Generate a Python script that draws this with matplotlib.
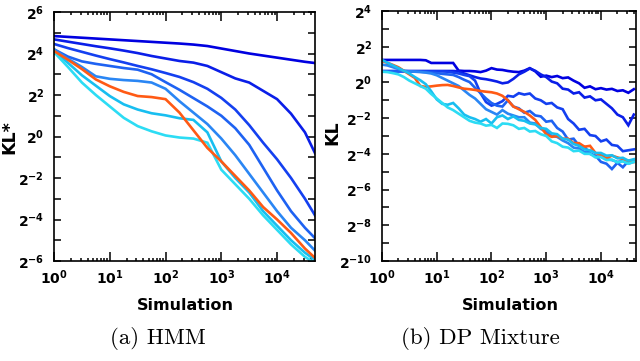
import numpy as np
import matplotlib
matplotlib.use("Agg")
import matplotlib.pyplot as plt

# log10(simulation) grid for each panel
hmm_logx = [0, 0.25, 0.5, 0.75, 1.0, 1.25, 1.5, 1.75, 2.0, 2.25, 2.5, 2.75,
            3.0, 3.25, 3.5, 3.75, 4.0, 4.25, 4.5, 4.68]
dp_logx = [round(0.1 * i, 1) for i in range(47)]

# log2(KL*)
hmm_a = [4.84, 4.80, 4.76, 4.72, 4.68, 4.64, 4.60, 4.56, 4.52, 4.48, 4.43, 4.36,
         4.24, 4.12, 4.00, 3.90, 3.80, 3.70, 3.60, 3.54]
hmm_b = [4.68, 4.57, 4.46, 4.35, 4.25, 4.14, 4.02, 3.88, 3.76, 3.64, 3.56, 3.40,
         3.10, 2.80, 2.60, 2.20, 1.80, 1.10, 0.20, -0.80]
hmm_c = [4.46, 4.26, 4.08, 3.90, 3.73, 3.57, 3.40, 3.24, 3.06, 2.87, 2.62, 2.30,
         1.86, 1.30, 0.55, -0.30, -1.10, -2.00, -3.00, -3.80]
hmm_d = [4.20, 3.85, 3.62, 3.50, 3.40, 3.30, 3.22, 3.00, 2.62, 2.25, 1.85, 1.45,
         1.00, 0.40, -0.40, -1.50, -2.60, -3.60, -4.40, -4.90]
hmm_e = [4.20, 3.75, 3.35, 2.90, 2.78, 2.72, 2.68, 2.60, 2.30, 1.70, 1.15, 0.60,
         -0.10, -0.90, -1.80, -2.70, -3.60, -4.40, -5.00, -5.50]
hmm_orange = [4.12, 3.70, 3.25, 2.75, 2.42, 2.15, 1.95, 1.90, 1.80, 1.15, 0.30, -0.55,
              -1.20, -1.90, -2.60, -3.40, -4.00, -4.65, -5.40, -5.85]
hmm_cyan1 = [4.12, 3.55, 2.95, 2.45, 1.95, 1.55, 1.30, 1.12, 1.02, 0.88, 0.80, 0.20,
             -1.20, -2.00, -2.70, -3.60, -4.30, -5.00, -5.60, -5.95]
hmm_cyan2 = [4.07, 3.35, 2.60, 2.00, 1.45, 0.90, 0.50, 0.25, 0.05, -0.05, -0.10, -0.30,
             -1.60, -2.30, -3.00, -3.80, -4.50, -5.20, -5.80, -6.10]

# log2(KL)
dp_a = [1.26, 1.26, 1.26, 1.26, 1.26, 1.26, 1.26, 1.26, 1.24, 1.09, 1.09, 1.09, 1.09, 1.09,
        0.66, 0.64, 0.64, 0.62, 0.58, 0.66, 0.80, 0.72, 0.70, 0.64, 0.60, 0.58, 0.66, 0.80,
        0.62, 0.32, 0.38, 0.30, 0.36, 0.24, 0.28, 0.10, -0.05, -0.30, -0.22, -0.38, -0.32,
        -0.40, -0.36, -0.48, -0.44, -0.58, -0.38]
dp_b = [0.64, 0.64, 0.64, 0.64, 0.64, 0.64, 0.64, 0.64, 0.64, 0.64, 0.64, 0.64, 0.64, 0.64,
        0.62, 0.50, 0.40, 0.30, 0.22, 0.18, 0.12, 0.05, -0.05, 0.00, 0.20, 0.45, 0.60, 0.78,
        0.65, 0.45, 0.30, 0.05, -0.05, -0.35, -0.40, -0.62, -0.55, -0.85, -0.78, -1.00, -0.95,
        -1.20, -1.45, -1.80, -1.95, -2.40, -1.80]
dp_c = [0.62, 0.62, 0.62, 0.62, 0.62, 0.62, 0.62, 0.62, 0.62, 0.62, 0.62, 0.62, 0.60, 0.55,
        0.50, 0.42, 0.35, 0.10, -0.60, -1.10, -1.30, -1.20, -1.05, -0.75, -0.80, -0.60, -0.68,
        -0.62, -0.90, -1.00, -1.20, -1.15, -1.40, -1.50, -2.05, -2.30, -2.65, -2.60, -2.95,
        -3.00, -3.30, -3.20, -3.50, -3.55, -3.85, -3.80, -3.75]
dp_d = [0.62, 0.62, 0.62, 0.62, 0.62, 0.62, 0.62, 0.60, 0.58, 0.55, 0.52, 0.48, 0.45, 0.42,
        0.30, 0.15, 0.02, -0.30, -0.60, -0.90, -1.15, -1.30, -1.35, -1.00, -1.35, -1.45, -1.70,
        -1.60, -1.85, -1.90, -2.20, -2.15, -2.55, -2.75, -3.20, -3.15, -3.55, -3.60, -4.00,
        -4.10, -4.45, -4.55, -4.85, -4.50, -4.75, -4.40, -4.35]
dp_e = [1.00, 0.95, 0.85, 0.75, 0.65, 0.62, 0.60, 0.58, 0.55, 0.50, 0.40, 0.25, 0.10, -0.05,
        -0.20, -0.45, -0.70, -0.90, -1.20, -1.50, -1.65, -1.80, -1.55, -1.75, -1.85, -1.95, -1.95,
        -2.25, -2.30, -2.60, -2.75, -3.00, -3.05, -3.25, -3.40, -3.65, -3.70, -3.90, -3.95,
        -4.15, -4.15, -4.30, -4.35, -4.45, -4.40, -4.55, -4.45]
dp_orange = [1.20, 1.10, 0.98, 0.85, 0.65, 0.45, 0.25, -0.20, -0.25, -0.22, -0.18, -0.15, -0.14,
             -0.20, -0.28, -0.35, -0.38, -0.42, -0.48, -0.52, -0.55, -0.62, -0.75, -1.00, -1.35,
             -1.50, -1.65, -1.85, -2.10, -2.50, -2.90, -3.05, -3.00, -3.15, -3.15, -3.40, -3.40,
             -3.60, -3.55, -3.95, -4.05, -4.25, -4.10, -4.20, -4.30, -4.40, -4.45]
dp_cyan1 = [1.26, 1.10, 0.95, 0.80, 0.65, 0.50, 0.30, 0.12, -0.10, -0.50, -0.95, -1.20, -1.25,
            -1.15, -1.45, -1.80, -1.95, -2.05, -2.20, -2.05, -2.30, -1.95, -1.85, -2.05, -1.90,
            -2.10, -2.15, -2.30, -2.35, -2.55, -2.60, -2.85, -2.90, -3.15, -3.20, -3.45, -3.55,
            -3.75, -3.80, -3.95, -3.95, -4.10, -4.08, -4.25, -4.22, -4.38, -4.30]
dp_cyan2 = [0.60, 0.58, 0.52, 0.45, 0.30, 0.10, -0.05, -0.20, -0.35, -0.65, -0.90, -1.15, -1.40,
            -1.55, -1.75, -1.95, -2.15, -2.25, -2.30, -2.42, -2.38, -2.55, -2.30, -2.32, -2.40,
            -2.60, -2.55, -2.75, -2.72, -2.90, -3.00, -3.30, -3.40, -3.60, -3.65, -3.85, -3.82,
            -4.00, -4.00, -4.20, -4.18, -4.35, -4.32, -4.48, -4.42, -4.55, -4.45]

colors = ['#0000e0', '#0a1ee8', '#1440f0', '#1e62f2', '#2a86f4', '#ff5a14', '#18bef0', '#2cdcf4']

plt.rcParams['mathtext.default'] = 'bf'
plt.rcParams['font.family'] = 'DejaVu Sans'

fig = plt.figure(figsize=(6.4, 3.61), dpi=100)
W, H = 640.0, 361.0
ax1 = fig.add_axes([54 / W, 1 - 261 / H, (315 - 54) / W, (261 - 12) / H])
ax2 = fig.add_axes([382 / W, 1 - 261 / H, (636 - 382) / W, (261 - 11) / H])


def draw(ax, logx, series, order, ylo, yhi, xmax):
    x = 10.0 ** np.array(logx)
    for i in order:
        ax.plot(x, 2.0 ** np.array(series[i]), color=colors[i], lw=1.9,
                solid_joinstyle='miter')
    ax.set_xscale('log')
    ax.set_yscale('log', base=2)
    ax.set_xlim(1, xmax)
    ax.set_ylim(2.0 ** ylo, 2.0 ** yhi)
    ax.set_xticks([10.0 ** k for k in range(5)])
    ax.set_xticklabels(['$10^{%d}$' % k for k in range(5)])
    ax.xaxis.set_minor_locator(matplotlib.ticker.LogLocator(base=10, subs=np.arange(2, 10)))
    ax.xaxis.set_minor_formatter(matplotlib.ticker.NullFormatter())
    ks = list(range(ylo, yhi + 1))
    ax.set_yticks([2.0 ** k for k in ks])
    ax.set_yticklabels(['$2^{%d}$' % k if k % 2 == 0 else '' for k in ks])
    ax.yaxis.set_minor_locator(matplotlib.ticker.NullLocator())
    ax.tick_params(which='both', direction='in', top=True, right=True, width=1.1,
                   labelsize=10)
    ax.tick_params(axis='x', which='major', length=6.5, pad=5)
    ax.tick_params(axis='x', which='minor', length=2.5)
    ax.tick_params(axis='y', which='major', length=5, pad=7)
    for s in ax.spines.values():
        s.set_linewidth(1.2)


draw(ax1, hmm_logx, [hmm_a, hmm_b, hmm_c, hmm_d, hmm_e, hmm_orange, hmm_cyan1, hmm_cyan2],
     [0, 1, 2, 3, 4, 6, 7, 5], -6, 6, 10 ** 4.68)
draw(ax2, dp_logx, [dp_a, dp_b, dp_c, dp_d, dp_e, dp_orange, dp_cyan1, dp_cyan2],
     [0, 1, 2, 3, 4, 5, 6, 7], -10, 4, 10 ** 4.64)

fig.text(9 / W, 1 - 137 / H, 'KL*', rotation=90, ha='center', va='center',
         fontsize=12.5, fontweight='bold')
fig.text(332 / W, 1 - 133 / H, 'KL', rotation=90, ha='center', va='center',
         fontsize=12.5, fontweight='bold')
fig.text(185 / W, 1 - 305 / H, 'Simulation', ha='center', va='center',
         fontsize=11.5, fontweight='bold')
fig.text(510 / W, 1 - 305 / H, 'Simulation', ha='center', va='center',
         fontsize=11.5, fontweight='bold')
fig.text(158 / W, 1 - 339 / H, '(a) HMM', ha='center', va='center',
         fontsize=16.5, family='cmr10')
fig.text(480 / W, 1 - 339 / H, '(b) DP Mixture', ha='center', va='center',
         fontsize=16.5, family='cmr10')

fig.savefig('out.png', dpi=100)
